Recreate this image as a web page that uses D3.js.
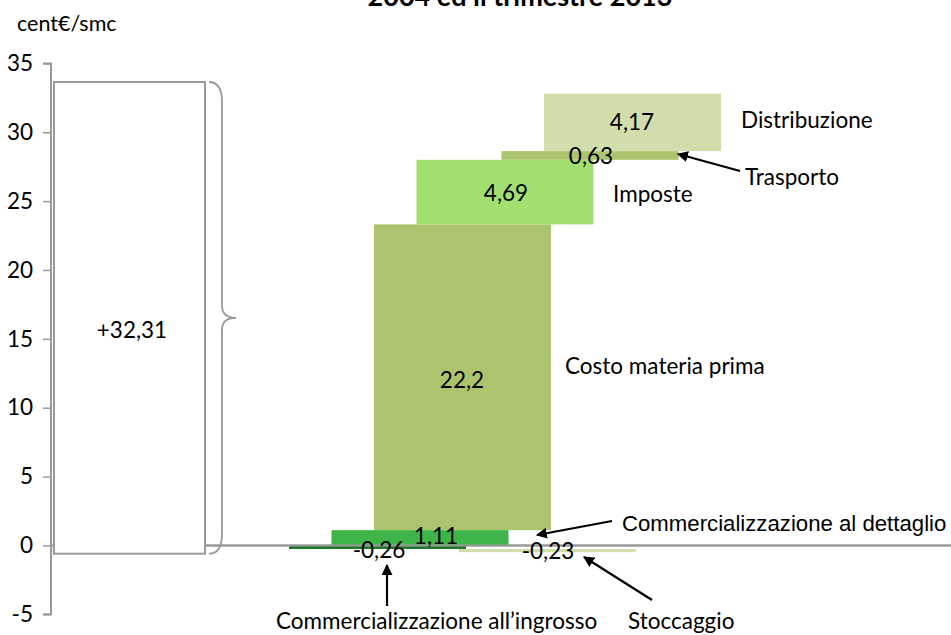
<!DOCTYPE html>
<html><head><meta charset="utf-8">
<script src="https://cdn.jsdelivr.net/npm/d3@7"></script>
<style>
body{margin:0;background:#fff;}
text{font-family:Lato,"Open Sans",sans-serif;fill:#000;}
</style></head>
<body>
<svg id="chart" width="951" height="635"></svg>
<script>
// ---- data ----
const title = "2004 ed il trimestre 2013";
const yLabel = "cent€/smc";
const categories = ["Commercializzazione all’ingrosso","Commercializzazione al dettaglio","Costo materia prima","Imposte","Stoccaggio","Trasporto","Distribuzione"];
const values     = [-0.26, 1.11, 22.2, 4.69, -0.23, 0.63, 4.17];
const bases      = [0, 0, 1.11, 23.31, -0.26, 28.0, 28.63];
const valueLabels= ["-0,26","1,11","22,2","4,69","-0,23","0,63","4,17"];
const colors     = ["#1f7a2c","#3fb549","#abc46d","#a1e070","#d1deab","#abc46d","#d1deab"];
const yTicks     = [-5,0,5,10,15,20,25,30,35];
const totalLabel = "+32,31";
const totalRange = [-0.6, 33.65];

const svg = d3.select("#chart");
const y = d3.scaleLinear().domain([-5,35]).range([614.3,63.4]);
const x = d3.scalePoint().domain(categories).range([289,544]);
const barW = 177;
const FS = "22.5px";

// title (clipped at top, as in the reference)
svg.append("text").attr("x",520).attr("y",6).attr("text-anchor","middle")
  .style("font-weight","bold").style("font-size","27px").text(title);
svg.append("text").attr("x",17).attr("y",31).style("font-size","21.5px").text(yLabel);

// axis
const axis = d3.axisLeft(y).tickValues(yTicks).tickSize(8).tickPadding(10).tickFormat(d=>d);
const ag = svg.append("g").attr("transform","translate(51,0)").call(axis);
ag.select(".domain").attr("stroke","#999").attr("stroke-width",2).attr("d",`M-8,${y(35)}H0V${y(-5)}H-8`);
ag.selectAll(".tick line").attr("stroke","#999").attr("stroke-width",1.5);
ag.selectAll(".tick text").style("font-size","22.5px").style("font-family","Lato,sans-serif").attr("fill","#000");

// zero line
svg.append("line").attr("x1",51).attr("x2",951).attr("y1",y(0)).attr("y2",y(0))
  .attr("stroke","#999").attr("stroke-width",2);

// total box
svg.append("rect").attr("x",54).attr("y",y(totalRange[1])).attr("width",151)
  .attr("height",y(totalRange[0])-y(totalRange[1])).attr("fill","#fff")
  .attr("stroke","#999").attr("stroke-width",2);
svg.append("text").attr("x",132).attr("y",y(15)-1).attr("text-anchor","middle")
  .style("font-size",FS).text(totalLabel);

// brace
const bTop = y(totalRange[1]), bBot = y(totalRange[0]), bMid = (bTop+bBot)/2;
svg.append("path").attr("fill","none").attr("stroke","#999").attr("stroke-width",1.8)
  .attr("d",`M209,${bTop} Q222,${bTop} 222,${bTop+20} L222,${bMid-12} Q222,${bMid} 236,${bMid}
             Q222,${bMid} 222,${bMid+12} L222,${bBot-20} Q222,${bBot} 209,${bBot}`);

// bars
const bars = svg.append("g");
const drawOrder = [2,3,5,6,0,4,1];
drawOrder.forEach(i=>{
  const a = bases[i], b = bases[i]+values[i];
  bars.append("rect").attr("x",x(categories[i])).attr("width",barW)
    .attr("y",y(Math.max(a,b))).attr("height",Math.abs(y(a)-y(b))).attr("fill",colors[i]);
});
// zero line over bars
svg.append("line").attr("x1",205).attr("x2",951).attr("y1",y(0)).attr("y2",y(0))
  .attr("stroke","#999").attr("stroke-width",2);

// value labels
const vlPos = [[379,558],[436,544],[462,388],[506,201],[548,559],[591,164],[632,130]];
valueLabels.forEach((t,i)=>{
  svg.append("text").attr("x",vlPos[i][0]).attr("y",vlPos[i][1]).attr("text-anchor","middle")
    .style("font-size",FS).text(t);
});

// category labels
const catPos = [[276,629],[622,531],[565,374],[613,202],[628,629],[745,185],[741,128]];
categories.forEach((t,i)=>{
  const el = svg.append("text").attr("x",catPos[i][0]).attr("y",catPos[i][1])
    .style("font-size",FS).text(t);
  if(i===1) el.style("font-family","'Liberation Sans',Arial,sans-serif").style("font-size","22.2px");
});

// arrows
svg.append("defs").append("marker").attr("id","ah").attr("viewBox","0 0 10 10")
  .attr("refX",9).attr("refY",5).attr("markerWidth",5).attr("markerHeight",5)
  .attr("orient","auto").append("path").attr("d","M0,0L10,5L0,10z").attr("fill","#000");
const arrows = [[387,606,387,565],[612,521,537,535],[652,600,584,557],[740,171,678,154]];
arrows.forEach(a=>{
  svg.append("line").attr("x1",a[0]).attr("y1",a[1]).attr("x2",a[2]).attr("y2",a[3])
    .attr("stroke","#000").attr("stroke-width",2.2).attr("marker-end","url(#ah)");
});
</script>
</body></html>
